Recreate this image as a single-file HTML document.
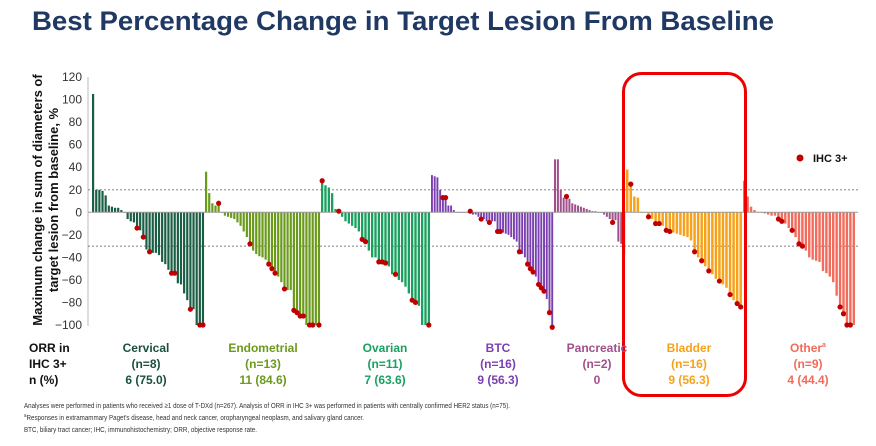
<!DOCTYPE html>
<html><head><meta charset="utf-8"><style>
body{margin:0;width:876px;height:441px;background:#fff;overflow:hidden;font-family:"Liberation Sans",Arial,sans-serif}
</style></head><body>
<svg id="s" width="876" height="441" xmlns="http://www.w3.org/2000/svg" font-family="Liberation Sans, Arial, sans-serif">
<text x="32" y="30" font-size="27" font-weight="bold" fill="#1f3864" textLength="742" lengthAdjust="spacingAndGlyphs">Best Percentage Change in Target Lesion From Baseline</text>
<g font-size="13" font-weight="bold" fill="#111" transform="translate(42,200) rotate(-90)" text-anchor="middle">
<text x="0" y="0">Maximum change in sum of diameters of</text>
<text x="0" y="16">target lesion from baseline, %</text>
</g>
<g id="ticks" font-size="12" fill="#333" text-anchor="end"></g>
<line x1="88" y1="77" x2="88" y2="326" stroke="#bbb" stroke-width="1"/>
<line x1="88" y1="189.8" x2="858" y2="189.8" stroke="#777" stroke-dasharray="2,2" stroke-width="0.8"/>
<line x1="88" y1="246.1" x2="858" y2="246.1" stroke="#555" stroke-dasharray="2,2" stroke-width="0.8"/>
<g id="bars"></g>
<line x1="88" y1="212.3" x2="858" y2="212.3" stroke="#999" stroke-width="1"/>
<g id="dots" fill="#c00000"></g>
<circle cx="800" cy="158" r="3.5" fill="#c00000"/>
<text x="813" y="162" font-size="11" font-weight="bold" fill="#111">IHC 3+</text>
<rect x="623.5" y="73.5" width="122" height="322" rx="18" fill="none" stroke="#ee0000" stroke-width="3"/>
<g font-size="12" font-weight="bold">
<text x="29" y="352" fill="#111">ORR in</text>
<text x="29" y="368" fill="#111">IHC 3+</text>
<text x="29" y="384" fill="#111">n (%)</text>
<g text-anchor="middle">
<text x="146" y="352" fill="#1a5040">Cervical</text><text x="146" y="368" fill="#1a5040">(n=8)</text><text x="146" y="384" fill="#1a5040">6 (75.0)</text>
<text x="263" y="352" fill="#6a9a1a">Endometrial</text><text x="263" y="368" fill="#6a9a1a">(n=13)</text><text x="263" y="384" fill="#6a9a1a">11 (84.6)</text>
<text x="385" y="352" fill="#1aa060">Ovarian</text><text x="385" y="368" fill="#1aa060">(n=11)</text><text x="385" y="384" fill="#1aa060">7 (63.6)</text>
<text x="498" y="352" fill="#7a3fb0">BTC</text><text x="498" y="368" fill="#7a3fb0">(n=16)</text><text x="498" y="384" fill="#7a3fb0">9 (56.3)</text>
<text x="597" y="352" fill="#a0508a">Pancreatic</text><text x="597" y="368" fill="#a0508a">(n=2)</text><text x="597" y="384" fill="#a0508a">0</text>
<text x="689" y="352" fill="#f7a21b">Bladder</text><text x="689" y="368" fill="#f7a21b">(n=16)</text><text x="689" y="384" fill="#f7a21b">9 (56.3)</text>
<text x="808" y="352" fill="#f26b5b">Other<tspan font-size="7" dy="-5">a</tspan></text><text x="808" y="368" fill="#f26b5b">(n=9)</text><text x="808" y="384" fill="#f26b5b">4 (44.4)</text>
</g></g>
<g font-size="7.6" fill="#333">
<text x="24" y="408" textLength="486" lengthAdjust="spacingAndGlyphs">Analyses were performed in patients who received ≥1 dose of T-DXd (n=267). Analysis of ORR in IHC 3+ was performed in patients with centrally confirmed HER2 status (n=75).</text>
<text x="24" y="420" textLength="340" lengthAdjust="spacingAndGlyphs"><tspan font-size="5.5" dy="-3">a</tspan><tspan dy="3">Responses in extramammary Paget's disease, head and neck cancer, oropharyngeal neoplasm, and salivary gland cancer.</tspan></text>
<text x="24" y="432" textLength="233" lengthAdjust="spacingAndGlyphs">BTC, biliary tract cancer; IHC, immunohistochemistry; ORR, objective response rate.</text>
</g>
</svg>
<script>
var NS="http://www.w3.org/2000/svg";
function Y(v){return 212.3-v*1.127;}
var t=document.getElementById('ticks');
for(var v=120;v>=-100;v-=20){var e=document.createElementNS(NS,'text');e.setAttribute('x',82);e.setAttribute('y',Y(v)+4);e.textContent=(v<0?'\u2212':'')+Math.abs(v);t.appendChild(e);}
var groups=[
[92,205,'#1a5e45',"105 20 20 19 15 6 5 4 4 2 0 -6 -8 -9 -14d -16 -22d -33 -35d -36 -36 -38 -44 -46 -51 -54d -54d -63 -64 -72 -78 -86d -86 -100 -100d -100d"],
[205,321,'#6a9a1a',"36 17 8 6 8d 0 -3 -4 -5 -6 -9 -12 -17 -22 -28d -34 -37 -39 -40 -42 -46d -50d -54d -57 -62 -68d -69 -69 -87d -89d -92d -92d -100 -100d -100d -100 -100d"],
[321,431,'#1aa060',"28d 24 22 17 3 1d -4 -8 -10 -12 -14 -17 -24d -26d -34 -40 -40 -44d -44d -45d -48 -55 -55d -60 -62 -66 -72 -78d -80d -83 -100 -100 -100d"],
[431,554,'#7a3fb0',"33 32 31 20 13d 13d 6 6 2 0 0 0 0 0 1d -2 -2 -4 -6d -6 -8 -9d -8 -8 -17d -17d -18 -19 -20 -22 -24 -26 -35d -37 -40 -46d -50d -53d -57 -64d -67d -70d -77 -89d -102d"],
[554,626,'#a0508a',"47 47 20 13 14d 12 8 7 6 5 4 3 2 1 1 0 0 -2 -4 -6 -9d -7 -26 -28 -38"],
[626,743,'#f7a21b',"38 25d 14 13 0 0 -4d -6 -10d -10d -12 -16d -17d -18 -19 -20 -21 -22 -25 -35d -40 -43d -48 -52d -55 -59 -61d -64 -67 -73d -78 -81d -84d"],
[743,856,'#f26b5b',"28 14 5 2 0 0 -1 -2 -3 -3 -6d -8d -10 -14 -16d -22 -28d -30d -34 -40 -42 -43 -44 -52 -54 -57 -62 -74 -84d -90d -100d -100d -100"]
];
var B=document.getElementById('bars'),D=document.getElementById('dots');
groups.forEach(function(g){var a=g[3].split(' '),n=a.length,p=(g[1]-g[0])/n;
a.forEach(function(s,i){var d=s.indexOf('d')>=0,v=parseFloat(s),x=g[0]+i*p;
var r=document.createElementNS(NS,'rect');var y0=Y(0),y1=Y(v);
r.setAttribute('x',x.toFixed(2));r.setAttribute('width',(p*0.7).toFixed(2));
r.setAttribute('y',Math.min(y0,y1));r.setAttribute('height',Math.max(Math.abs(y1-y0),0.5));
r.setAttribute('fill',g[2]);B.appendChild(r);
if(d){var c=document.createElementNS(NS,'circle');c.setAttribute('cx',(x+p*0.35).toFixed(2));c.setAttribute('cy',y1);c.setAttribute('r',2.6);D.appendChild(c);}
});});
</script>
</body></html>
